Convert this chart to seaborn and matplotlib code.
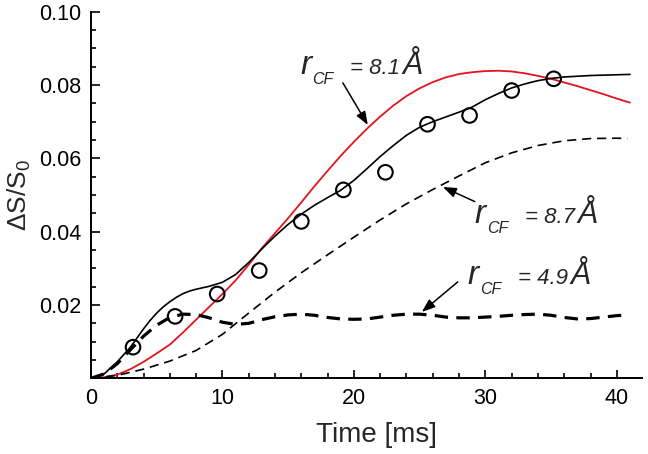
import matplotlib
matplotlib.use("Agg")
import matplotlib.pyplot as plt
import matplotlib.transforms as mtrans
import seaborn as sns
import numpy as np

# ---------------- data ----------------
t_solid = [0, 1, 2, 3, 3.5, 4, 4.5, 5, 5.5, 6, 6.5, 7, 7.5, 8, 9, 10, 11, 12, 13,
           14, 15, 16, 17, 18, 19, 20, 21, 22, 23, 24, 25, 26, 27, 28, 29, 30, 31,
           32, 33, 34, 35, 36, 38, 41]
y_solid = [0, 0.0012, 0.0045, 0.0085, 0.011, 0.0135, 0.0158, 0.0178, 0.0195, 0.0209,
           0.0221, 0.0231, 0.0238, 0.0243, 0.0251, 0.0262, 0.0283, 0.0316, 0.0353,
           0.0388, 0.0420, 0.0448, 0.0472, 0.0493, 0.0513, 0.0540, 0.0572, 0.0605,
           0.0635, 0.0663, 0.0685, 0.0700, 0.0713, 0.0726, 0.0740, 0.0760, 0.0777,
           0.0792, 0.0803, 0.0812, 0.0818, 0.0822, 0.0826, 0.0829]

t_red = [0, 1, 2, 3, 4, 5, 6, 7, 8, 9, 10, 11, 12, 13, 14, 15, 16, 17, 18, 19, 20,
         21, 22, 23, 24, 25, 26, 27, 28, 29, 30, 31, 32, 33, 34, 35, 36, 37, 38, 39,
         40, 41]
y_red = [0, 0.0003, 0.001, 0.0025, 0.0045, 0.0068, 0.0092, 0.0125, 0.016, 0.0195,
         0.023, 0.0267, 0.031, 0.0355, 0.0396, 0.0437, 0.048, 0.0524, 0.0566, 0.0607,
         0.0645, 0.0681, 0.0714, 0.0744, 0.0770, 0.0791, 0.0808, 0.0821, 0.0830, 0.0835,
         0.0838, 0.0839, 0.0837, 0.0832, 0.0825, 0.0817, 0.0807, 0.0797, 0.0786, 0.0775,
         0.0763, 0.0752]

t_87 = [0, 2, 4, 6, 8, 10, 12, 14, 16, 18, 20, 22, 24, 26, 28, 30, 32, 34, 36, 38,
        40, 40.8]
y_87 = [0, 0.0008, 0.0025, 0.0047, 0.0076, 0.012, 0.0178, 0.0235, 0.0288, 0.0337,
        0.0385, 0.0432, 0.0476, 0.0515, 0.0552, 0.0588, 0.0615, 0.0635, 0.0648, 0.0654,
        0.0655, 0.0654]

t_49 = [0, 1, 2, 3, 4, 5, 6, 7, 8, 9, 10, 11, 12, 13, 14, 15, 16, 17, 18, 19, 20,
        21, 22, 23, 24, 25, 26, 27, 28, 29, 30, 31, 32, 33, 34, 35, 36, 37, 38, 39,
        40, 40.8]
y_49 = [0, 0.0012, 0.004, 0.0078, 0.0115, 0.0145, 0.0166, 0.0175, 0.0174, 0.0165,
        0.0153, 0.0147, 0.0150, 0.0160, 0.0168, 0.0173, 0.0175, 0.0172, 0.0166, 0.0162,
        0.0161, 0.0162, 0.0167, 0.0172, 0.0175, 0.0175, 0.0172, 0.0167, 0.0165, 0.0165,
        0.0167, 0.0169, 0.0172, 0.0174, 0.0175, 0.0172, 0.0166, 0.0162, 0.0163, 0.0167,
        0.0171, 0.0173]

t_exp = [3.2, 6.4, 9.6, 12.8, 16.0, 19.2, 22.4, 25.6, 28.8, 32.0, 35.2]
y_exp = [0.0085, 0.0169, 0.0230, 0.0294, 0.0428, 0.0514, 0.0562, 0.0693, 0.0717,
         0.0785, 0.0817]

label_vals = ["8.1", "8.7", "4.9"]
x_ticks = [0, 10, 20, 30, 40]
y_ticks = [0.02, 0.04, 0.06, 0.08, 0.10]

# ---------------- style ----------------
sns.set_style("ticks")
plt.rcParams["font.family"] = ["Liberation Sans", "DejaVu Sans"]
plt.rcParams["mathtext.default"] = "regular"

fig = plt.figure(figsize=(6.48, 4.54), dpi=100)
ax = fig.add_axes([0.1404, 0.1667, 0.850, 0.8075])

sns.lineplot(x=t_red, y=y_red, ax=ax, color="#e3141c", linewidth=1.3,
             estimator=None, sort=False)
sns.lineplot(x=t_87, y=y_87, ax=ax, color="black", linewidth=1.2,
             linestyle=(0, (5.5, 3.5)), estimator=None, sort=False)
sns.lineplot(x=t_49, y=y_49, ax=ax, color="black", linewidth=2.3,
             linestyle=(0, (4.2, 2.6)), estimator=None, sort=False)
sns.lineplot(x=t_solid, y=y_solid, ax=ax, color="black", linewidth=1.2,
             estimator=None, sort=False)
sns.scatterplot(x=t_exp, y=y_exp, ax=ax, marker="o", s=110, facecolor="none",
                edgecolor="black", linewidth=1.5, zorder=5)

ax.set_xlim(0, 41.9)
ax.set_ylim(0, 0.10)
ax.set_xticks(x_ticks)
ax.set_yticks(y_ticks)
ax.set_xticklabels([str(v) for v in x_ticks])
ax.set_yticklabels([f"{v:.2f}" for v in y_ticks])
ax.set_xticks(np.arange(0, 42, 2), minor=True)
ax.set_yticks(np.arange(0, 0.1001, 0.005), minor=True)
ax.tick_params(which="both", direction="in", width=1.2, colors="black")
ax.tick_params(which="major", length=6, labelsize=15.5, pad=7)
ax.tick_params(which="minor", length=3.5)
ax.tick_params(axis="y", which="major", length=6.5)
for s in ["top", "right"]:
    ax.spines[s].set_visible(False)
for s in ["left", "bottom"]:
    ax.spines[s].set_linewidth(1.4)
    ax.spines[s].set_color("black")

ax.set_xlabel("Time [ms]", fontsize=20)
ax.xaxis.set_label_coords(0.519, -0.118)
ax.xaxis.label.set_va("top")
ax.set_ylabel("ΔS/S$_0$", fontsize=19, labelpad=4)

# ---------------- annotations ----------------
def rcf_label(x, y, val):
    ax.text(x, y, "r", fontsize=24, style="italic", va="baseline", ha="left")
    tr1 = mtrans.offset_copy(ax.transData, fig=fig, x=8.6, y=-7.2, units="points")
    ax.text(x, y, "CF", fontsize=11.5, style="italic", va="baseline", ha="left",
            transform=tr1)
    tr2 = mtrans.offset_copy(ax.transData, fig=fig, x=36, y=0, units="points")
    ax.text(x, y, f"= {val}", fontsize=16, style="italic", va="baseline",
            ha="left", transform=tr2)
    tr3 = mtrans.offset_copy(ax.transData, fig=fig, x=74, y=0, units="points")
    ax.text(x, y, "Å", fontsize=22, style="italic", va="baseline",
            ha="left", transform=tr3)

rcf_label(15.9, 0.0830, label_vals[0])
rcf_label(29.2, 0.0424, label_vals[1])
rcf_label(28.67, 0.0258, label_vals[2])

arrow = dict(arrowstyle="-|>,head_length=0.8,head_width=0.3", color="black",
             lw=1.1, shrinkA=0, shrinkB=0)
ax.annotate("", xy=(21.06, 0.0691), xytext=(19.16, 0.0806), arrowprops=arrow)
ax.annotate("", xy=(26.77, 0.0522), xytext=(29.2, 0.0482), arrowprops=arrow)
ax.annotate("", xy=(25.17, 0.0181), xytext=(27.9, 0.0263), arrowprops=arrow)

fig.savefig("out.png", dpi=100)
